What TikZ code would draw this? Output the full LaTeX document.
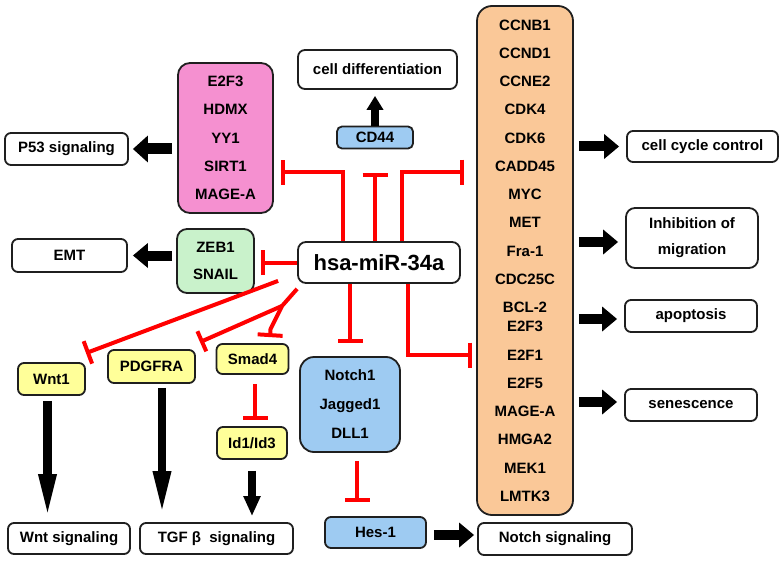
\documentclass[tikz,border=0pt]{standalone}
\usepackage{fontspec}
\setmainfont{Liberation Sans}
\usetikzlibrary{arrows.meta,calc}
\definecolor{pinkf}{HTML}{F590D0}
\definecolor{greenf}{HTML}{C9F2CB}
\definecolor{bluef}{HTML}{9ECBF2}
\definecolor{yellowf}{HTML}{FFFF99}
\definecolor{orangef}{HTML}{FAC898}
\definecolor{inhred}{HTML}{FF0000}
\begin{document}
\begin{tikzpicture}[x=1pt,y=-1pt,
  box/.style={draw=black!88, line width=1.8pt, rounded corners=6pt, fill=white,
    minimum height=32pt, inner sep=0pt, align=center,
    font=\bfseries\fontsize{15}{18}\selectfont},
  harrow/.style={draw=black, line width=10pt, -{Triangle[width=24pt,length=15pt]}},
  varrow/.style={draw=black, line width=8.5pt, -{Triangle[width=16pt,length=14pt]}},
  longarrow/.style={draw=black, line width=8.5pt, -{Triangle[width=16pt,length=45pt]}},
  midarrow/.style={draw=black, line width=8.5pt, -{Triangle[width=16pt,length=20pt]}},
  inh/.style={draw=inhred, line width=4pt, -{Bar[width=25pt]}}
]
\useasboundingbox (0,0) rectangle (783,564);

% nodes
\node[box, minimum width=123pt] (p53) at (66.5,149) {P53 signaling};
\node[box, fill=pinkf, minimum width=95pt, minimum height=150pt, rounded corners=12pt,
  font=\bfseries\fontsize{15}{28.25}\selectfont] (pink) at (225.5,138)
  {E2F3\\HDMX\\YY1\\SIRT1\\MAGE-A};
\node[box, minimum width=159pt, minimum height=39pt, rounded corners=7pt] (celldiff) at (377.5,69.5) {cell differentiation};
\node[box, fill=bluef, minimum width=76pt, minimum height=22pt, rounded corners=5pt] (cd44) at (375,137.5) {CD44};
\node[box, fill=orangef, minimum width=96pt, minimum height=509pt, rounded corners=15pt,
  font=\bfseries\fontsize{15}{28.25}\selectfont] (orange) at (525,260.5)
  {CCNB1\\CCND1\\CCNE2\\CDK4\\CDK6\\CADD45\\MYC\\MET\\Fra-1\\CDC25C\\BCL-2\\[-9pt]E2F3\\E2F1\\E2F5\\MAGE-A\\HMGA2\\MEK1\\LMTK3};
\node[box, minimum width=151pt, minimum height=31pt] (cc) at (702.5,146.5) {cell cycle control};
\node[box, minimum width=132pt, minimum height=60pt, rounded corners=9pt,
  font=\bfseries\fontsize{15}{26}\selectfont] (inhm) at (692,238) {Inhibition of\\migration};
\node[box, minimum width=132pt] (apo) at (691,316) {apoptosis};
\node[box, minimum width=132pt] (sen) at (691,405) {senescence};
\node[box, minimum width=162pt, minimum height=41pt, rounded corners=8pt,
  font=\bfseries\fontsize{22}{26}\selectfont] (hsa) at (379,262.5) {hsa-miR-34a};
\node[box, fill=greenf, minimum width=77pt, minimum height=64pt, rounded corners=10pt,
  font=\bfseries\fontsize{15}{27}\selectfont] (zeb) at (215.5,261) {ZEB1\\SNAIL};
\node[box, minimum width=115pt, minimum height=33pt] (emt) at (69.5,255.5) {EMT};
\node[box, fill=yellowf, minimum width=67pt] (wnt1) at (51.5,379) {Wnt1};
\node[box, fill=yellowf, minimum width=87pt, minimum height=33pt] (pdg) at (151.5,366.5) {PDGFRA};
\node[box, fill=yellowf, minimum width=72pt, minimum height=30pt] (smad) at (252.5,359) {Smad4};
\node[box, fill=yellowf, minimum width=70pt] (id) at (252,443) {Id1/Id3};
\node[box, fill=bluef, minimum width=100pt, minimum height=95pt, rounded corners=14pt,
  font=\bfseries\fontsize{15}{29}\selectfont] (notch) at (350,404.5) {Notch1\\Jagged1\\DLL1};
\node[box, fill=bluef, minimum width=101pt, minimum height=31pt] (hes) at (375.5,532.5) {Hes-1};
\node[box, minimum width=122pt, minimum height=31pt] (wntsig) at (69,538.5) {Wnt signaling};
\node[box, minimum width=153pt, minimum height=31pt] (tgf) at (216.5,538.5) {TGF β\ \ signaling};
\node[box, minimum width=154pt] (notchsig) at (555,539) {Notch signaling};

% black arrows
\draw[harrow, line width=11pt, -{Triangle[width=26pt,length=15pt]}, shorten <=5pt, shorten >=4pt] (pink.west |- p53.east) -- (p53.east);
\draw[harrow, shorten <=4pt, shorten >=5pt] (zeb.west |- emt.east) -- (emt.east);
\draw[varrow, shorten <=0pt, shorten >=6pt] (cd44.north) -- (cd44.north |- celldiff.south);
\draw[harrow, shorten <=5pt, shorten >=7pt] (orange.east |- cc.west) -- (cc.west);
\draw[harrow, shorten <=5pt, shorten >=7pt] ($(orange.east |- inhm.west)+(0,4)$) -- ($(inhm.west)+(0,4)$);
\draw[harrow, shorten <=5pt, shorten >=7pt] ($(orange.east |- apo.west)+(0,3)$) -- ($(apo.west)+(0,3)$);
\draw[harrow, shorten <=5pt, shorten >=7pt] ($(orange.east |- sen.west)+(0,-3)$) -- ($(sen.west)+(0,-3)$);
\draw[harrow, shorten <=7pt, shorten >=3pt] ($(hes.east)+(0,2.5)$) -- ($(hes.east -| notchsig.west)+(0,2.5)$);
\draw[longarrow, shorten <=5pt, shorten >=3pt] ($(wnt1.south)+(-4,0)$) -- ($(wnt1.south |- wntsig.north)+(-4,0)$);
\draw[longarrow, shorten <=4pt, shorten >=6pt] ($(pdg.south)+(10.5,0)$) -- ($(pdg.south |- tgf.north)+(10.5,0)$);
\draw[midarrow, shorten <=11pt, shorten >=6pt] (id.south) -- (id.south |- tgf.north);

% inhibitors
\draw[inh] ($(hsa.north)+(-36,0)$) |- ($(pink.east)+(7,34)$);
\draw[inh] ($(hsa.north)+(-4,0)$) -- ($(cd44.south)+(0,24)$);
\draw[inh] ($(hsa.north)+(23,0)$) |- ($(orange.west)+(-12,-88.5)$);
\draw[inh] (hsa.west) -- ($(hsa.west -| zeb.east)+(6,0)$);
\draw[inh] (hsa.south -| notch.north) -- ($(notch.north)+(0,-13)$);
\draw[inh] ($(hsa.south)+(29,0)$) |- ($(orange.west)+(-4,94.5)$);
\draw[inh] ($(notch.south)+(7,8)$) -- ($(hes.north)+(-18.5,-14)$);
\draw[inh] ($(smad.south)+(2.5,9)$) -- ($(id.north)+(3,-6)$);

\coordinate (wa) at ($(hsa.south west)+(-19,-3)$);
\coordinate (sa) at ($(hsa.south west)+(0,5)$);
\coordinate (br) at ($(hsa.south west)+(-15,22)$);
\draw[inh, -{Bar[width=24pt]}] (wa) -- ($(wnt1.north)+(34.5,-9)$);
\draw[inh, line join=round] (sa) -- (br) -- ($(smad.north)+(18,-14)$) -- ($(smad.north)+(17.5,-6)$);
\draw[inh, -{Bar[width=22pt]}] (br) -- ($(pdg.north)+(48.5,-7)$);
\end{tikzpicture}
\end{document}
